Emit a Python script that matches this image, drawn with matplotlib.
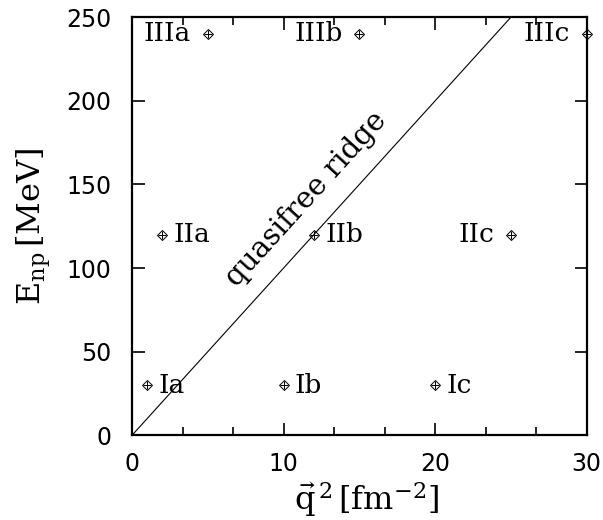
import numpy as np
import matplotlib
matplotlib.use('Agg')
import matplotlib.pyplot as plt
from matplotlib.ticker import MultipleLocator

plt.rcParams['mathtext.fontset'] = 'dejavuserif'

# kinematic points (q^2 in fm^-2, E_np in MeV)
labels = ['Ia', 'Ib', 'Ic', 'IIa', 'IIb', 'IIc', 'IIIa', 'IIIb', 'IIIc']
q2 = [1, 10, 20, 2, 12, 25, 5, 15, 30]
enp = [30, 30, 30, 120, 120, 120, 240, 240, 240]
side = ['r', 'r', 'r', 'r', 'r', 'l', 'l', 'l', 'l']

# quasifree ridge line
ridge_q2 = [0, 25]
ridge_e = [0, 250]

fig = plt.figure(figsize=(6.03, 5.2), dpi=100)
ax = fig.add_axes([0.219, 0.163, 0.754, 0.804])

ax.plot(ridge_q2, ridge_e, color='black', lw=0.8)
ax.plot(q2, enp, ls='none', marker='D', ms=5.5, mfc='none', mec='black', mew=0.7, clip_on=False)
ax.plot(q2, enp, ls='none', marker='+', ms=5.5, mec='black', mew=0.7, clip_on=False)

for lab, x, y, s in zip(labels, q2, enp, side):
    if s == 'r':
        ax.annotate(lab, (x, y), xytext=(8, 0), textcoords='offset points',
                    ha='left', va='center', family='DejaVu Serif', fontsize=19)
    else:
        ax.annotate(lab, (x, y), xytext=(-12, 0), textcoords='offset points',
                    ha='right', va='center', family='DejaVu Serif', fontsize=19)

ax.set_xlim(0, 30)
ax.set_ylim(0, 250)

# angle of the ridge on screen
p0 = ax.transData.transform((ridge_q2[0], ridge_e[0]))
p1 = ax.transData.transform((ridge_q2[1], ridge_e[1]))
ang = np.degrees(np.arctan2(p1[1] - p0[1], p1[0] - p0[0]))
ax.text(11.5, 141, 'quasifree ridge', rotation=ang, rotation_mode='anchor',
        ha='center', va='center', family='DejaVu Serif', fontsize=21)

ax.xaxis.set_major_locator(MultipleLocator(10))
ax.xaxis.set_minor_locator(MultipleLocator(10 / 3))
ax.yaxis.set_major_locator(MultipleLocator(50))
ax.tick_params(which='both', direction='in', top=True, right=True, width=1.2)
ax.tick_params(which='major', length=9, labelsize=17)
ax.tick_params(axis='x', which='major', pad=12)
ax.tick_params(axis='y', which='major', pad=15)
ax.tick_params(which='minor', length=6)
for sp in ax.spines.values():
    sp.set_linewidth(1.6)

ax.set_xlabel(r'$\vec{\mathrm{q}}^{\,2}\,[\mathrm{fm}^{-2}]$', fontsize=23)
ax.set_ylabel(r'$\mathrm{E_{np}}\,[\mathrm{MeV}]$', fontsize=23)
ax.xaxis.set_label_coords(0.516, -0.108)
ax.yaxis.set_label_coords(-0.174, 0.5)

fig.savefig('out.png', dpi=100)
